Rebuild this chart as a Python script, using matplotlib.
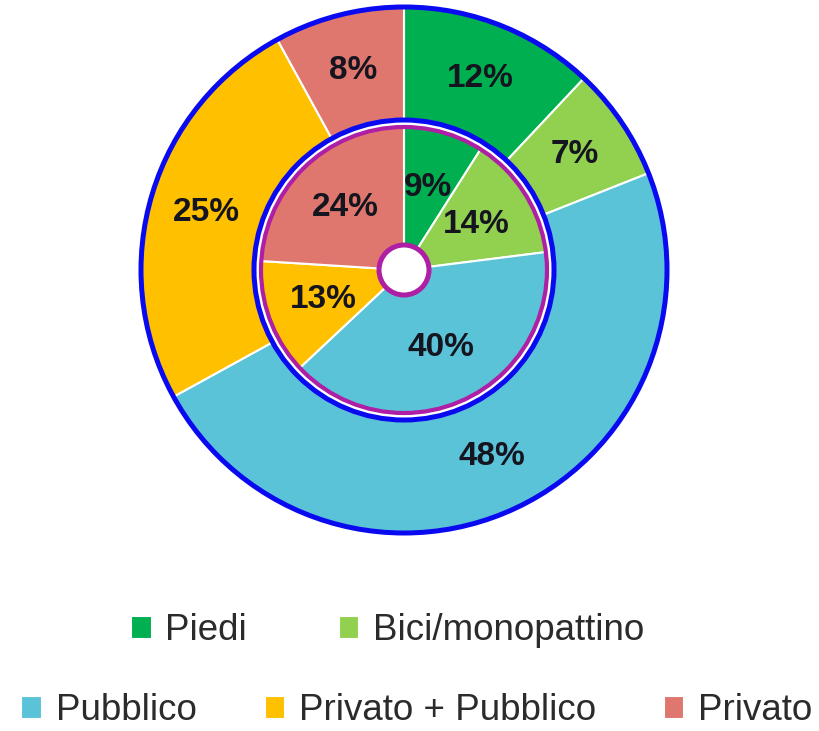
import matplotlib.pyplot as plt
from matplotlib.patches import Circle

plt.rcParams['font.family'] = ['Liberation Sans', 'DejaVu Sans']

categorie = ["Piedi", "Bici/monopattino", "Pubblico", "Privato + Pubblico", "Privato"]
esterno = [12, 7, 48, 25, 8]
interno = [9, 14, 40, 13, 24]
colori = ["#00B050", "#92D050", "#5BC3D8", "#FFC000", "#E0776F"]

fig = plt.figure(figsize=(8.2, 7.31), dpi=100)
ax = fig.add_axes([0, 0, 1, 1])
centro = (404, 461)
blu = "#0A0AF0"
viola = "#AE1FA6"
testo = dict(fontsize=24, fontweight='bold', color='#15151f')

w_out, _, _ = ax.pie(esterno, colors=colori, startangle=90, counterclock=False,
                     radius=263, center=centro, autopct=lambda p: f"{p:.0f}%",
                     pctdistance=206 / 263, textprops=testo,
                     wedgeprops=dict(width=113, edgecolor='white', linewidth=1.5))
ax.pie(interno, colors=colori, startangle=90, counterclock=False,
       radius=143, center=centro, autopct=lambda p: f"{p:.0f}%",
       pctdistance=0.6, textprops=testo,
       wedgeprops=dict(edgecolor='white', linewidth=1.5))

ax.add_patch(Circle(centro, 263, fill=False, ec=blu, lw=3.6, zorder=3))
ax.add_patch(Circle(centro, 150, fill=False, ec=blu, lw=3.6, zorder=3))
ax.add_patch(Circle(centro, 143, fill=False, ec=viola, lw=3, zorder=3))
ax.add_patch(Circle(centro, 25, fc='white', ec=viola, lw=3.6, zorder=3))

ax.set_xlim(0, 820)
ax.set_ylim(0, 731)
ax.set_aspect('equal')
ax.axis('off')

legenda = dict(loc='center', frameon=False, handlelength=0.55, handleheight=0.55,
               handletextpad=0.38, fontsize=26.5,
               labelcolor='#2b2b2b', borderpad=0.1)
fig.legend(w_out[:2], categorie[:2], ncol=2, columnspacing=2.5,
           bbox_to_anchor=(388 / 820, 1 - 631 / 731), **legenda)
fig.legend(w_out[2:], categorie[2:], ncol=3, columnspacing=1.85,
           bbox_to_anchor=(417 / 820, 1 - 711 / 731), **legenda)

fig.savefig("out.png", dpi=100)
